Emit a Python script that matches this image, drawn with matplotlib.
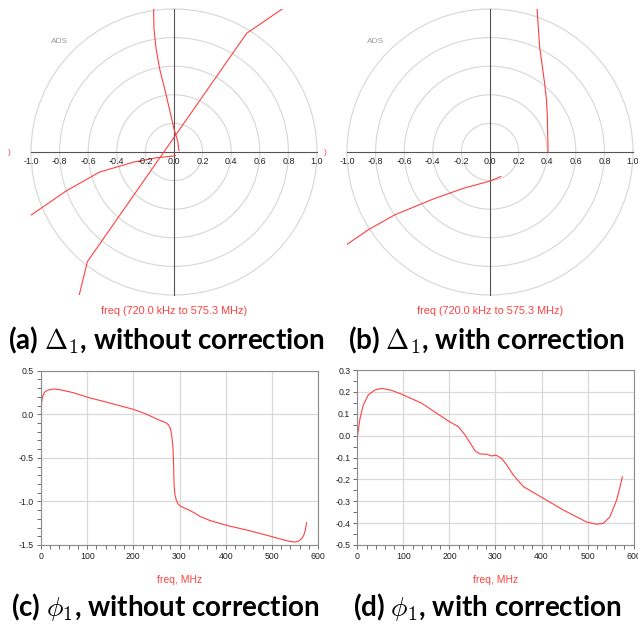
import numpy as np
import matplotlib
matplotlib.use('Agg')
import matplotlib.pyplot as plt
from matplotlib.patches import Circle
from matplotlib.ticker import MultipleLocator, FormatStrFormatter

plt.rcParams['font.family'] = ['Liberation Sans', 'DejaVu Sans']
plt.rcParams['mathtext.fontset'] = 'cm'
plt.rcParams['axes.unicode_minus'] = False

RED = '#ff4040'

# Delta_1 traces (real, imag), broken where they leave the plot window
delta_raw_re = [
    [0.035, 0.025, 0.0, -0.025, -0.06, -0.10, -0.125, -0.14, -0.143],
    [0.80, 0.508, -0.606, -0.67],
    [-1.02, -0.75, -0.52, -0.28, -0.12, -0.02, 0.01],
]
delta_raw_im = [
    [0.01, 0.08, 0.16, 0.27, 0.42, 0.58, 0.72, 0.86, 1.03],
    [1.03, 0.83, -0.767, -1.03],
    [-0.455, -0.27, -0.14, -0.07, -0.04, -0.03, -0.025],
]
delta_corr_re = [
    [0.406, 0.401, 0.395, 0.382, 0.347, 0.328],
    [0.075, 0.0, -0.19, -0.40, -0.667, -0.853, -1.02],
]
delta_corr_im = [
    [0.0, 0.247, 0.364, 0.48, 0.736, 1.02],
    [-0.172, -0.203, -0.255, -0.33, -0.44, -0.545, -0.66],
]

ring_radii = [0.2, 0.4, 0.6, 0.8, 1.0]
axis_ticks = [-1.0, -0.8, -0.6, -0.4, -0.2, 0.0, 0.2, 0.4, 0.6, 0.8, 1.0]

# phi_1 versus frequency (MHz)
freq_raw = [0.72, 1.4, 3.6, 8.7, 15.9, 26.7, 41.2, 70, 101, 142.5, 200, 229, 251,
            262, 270, 276, 280, 282.5, 284.5, 286, 287, 287.8, 288.5, 290, 292.8,
            297, 301.5, 310, 323, 335, 345, 366.6, 401, 453, 500, 525.6, 540, 550,
            558, 564, 569, 572.5, 575.3]
phi_raw = [0.05, 0.14, 0.21, 0.259, 0.279, 0.290, 0.282, 0.248, 0.195, 0.138, 0.057,
           0.0, -0.055, -0.08, -0.095, -0.12, -0.16, -0.22, -0.30, -0.40, -0.55,
           -0.70, -0.83, -0.92, -0.98, -1.03, -1.052, -1.075, -1.105, -1.14, -1.174,
           -1.22, -1.273, -1.338, -1.404, -1.441, -1.46, -1.466, -1.455, -1.43,
           -1.39, -1.33, -1.243]
freq_corr = [0.72, 5.9, 13, 23.9, 38.4, 53, 74.7, 99.8, 139.8, 197.5, 219.3, 233.8,
             244.6, 255.5, 266.3, 280.9, 291.7, 301, 313.4, 324.2, 338.6, 360.3,
             400.2, 447.2, 497.9, 519.6, 534, 548.5, 563, 570.2, 575.3]
phi_corr = [0.003, 0.079, 0.14, 0.186, 0.209, 0.216, 0.207, 0.186, 0.148, 0.067,
            0.041, 0.003, -0.032, -0.069, -0.084, -0.085, -0.093, -0.089, -0.104,
            -0.134, -0.18, -0.233, -0.282, -0.34, -0.395, -0.405, -0.401, -0.371,
            -0.294, -0.236, -0.188]

W, H = 638, 624
fig = plt.figure(figsize=(W / 100, H / 100), dpi=100)


def box(x0, y0, x1, y1):
    return [x0 / W, 1 - y1 / H, (x1 - x0) / W, (y1 - y0) / H]


def polar_panel(rect, re_parts, im_parts):
    ax = fig.add_axes(rect)
    ax.set_xlim(-1, 1)
    ax.set_ylim(-1, 1)
    ax.axis('off')
    for r in ring_radii:
        ax.add_patch(Circle((0, 0), r, fill=False, ec='#d6d6d6', lw=0.8, clip_on=False))
    ax.plot([-1, 1], [0, 0], color='#555555', lw=0.8, clip_on=False)
    ax.plot([0, 0], [-1, 1], color='#555555', lw=0.8, clip_on=False)
    for v in axis_ticks:
        ax.text(v, -0.035, f'{v:.1f}', ha='center', va='top', fontsize=6.5,
                color='#222222', clip_on=False)
    for re, im in zip(re_parts, im_parts):
        ax.plot(re, im, color=RED, lw=0.8)
    ax.text(-0.8, 0.77, 'ADS', ha='center', va='center', fontsize=6, color='#9a9a9a')
    ax.text(-1.15, 0.0, ')', ha='center', va='center', fontsize=6, color=RED)
    ax.text(0.0, -1.112, 'freq (720.0 kHz to 575.3 MHz)', ha='center', va='center',
            fontsize=7.8, color=RED, clip_on=False)
    return ax


def phase_panel(rect, f, p, ylim, ystep, yminor):
    ax = fig.add_axes(rect)
    ax.plot(f, p, color=RED, lw=0.8)
    ax.set_xlim(0, 600)
    ax.set_ylim(*ylim)
    ax.xaxis.set_major_locator(MultipleLocator(100))
    ax.xaxis.set_minor_locator(MultipleLocator(20))
    ax.yaxis.set_major_locator(MultipleLocator(ystep))
    ax.yaxis.set_minor_locator(MultipleLocator(yminor))
    ax.yaxis.set_major_formatter(FormatStrFormatter('%.1f'))
    ax.grid(True, which='major', color='#d9d9d9', lw=0.9)
    ax.tick_params(which='both', direction='out', length=3, width=0.6, color='#555555',
                   labelsize=6.3, labelcolor='#222222', pad=2)
    for s in ax.spines.values():
        s.set_color('#8c8c8c')
        s.set_linewidth(0.8)
    ax.set_xlabel('freq, MHz', color=RED, fontsize=7.5, labelpad=10)
    return ax


polar_panel(box(31, 9, 317, 295), delta_raw_re, delta_raw_im)
polar_panel(box(347, 9, 633, 295), delta_corr_re, delta_corr_im)

phase_panel(box(41, 370.7, 318, 545), freq_raw, phi_raw, (-1.5, 0.5), 0.5, 0.1)
phase_panel(box(357.3, 370, 633.7, 545), freq_corr, phi_corr, (-0.5, 0.3), 0.1, 0.05)

cap = dict(fontsize=20, fontweight='bold', family=['Lato', 'DejaVu Sans'],
           ha='center', va='center')
fig.text(166 / W, 1 - 340 / H, r'(a) $\Delta_1$, without correction', **cap)
fig.text(486 / W, 1 - 340 / H, r'(b) $\Delta_1$, with correction', **cap)
fig.text(165 / W, 1 - 607 / H, r'(c) $\phi_1$, without correction', **cap)
fig.text(487 / W, 1 - 607 / H, r'(d) $\phi_1$, with correction', **cap)

fig.savefig('out.png', dpi=100)
